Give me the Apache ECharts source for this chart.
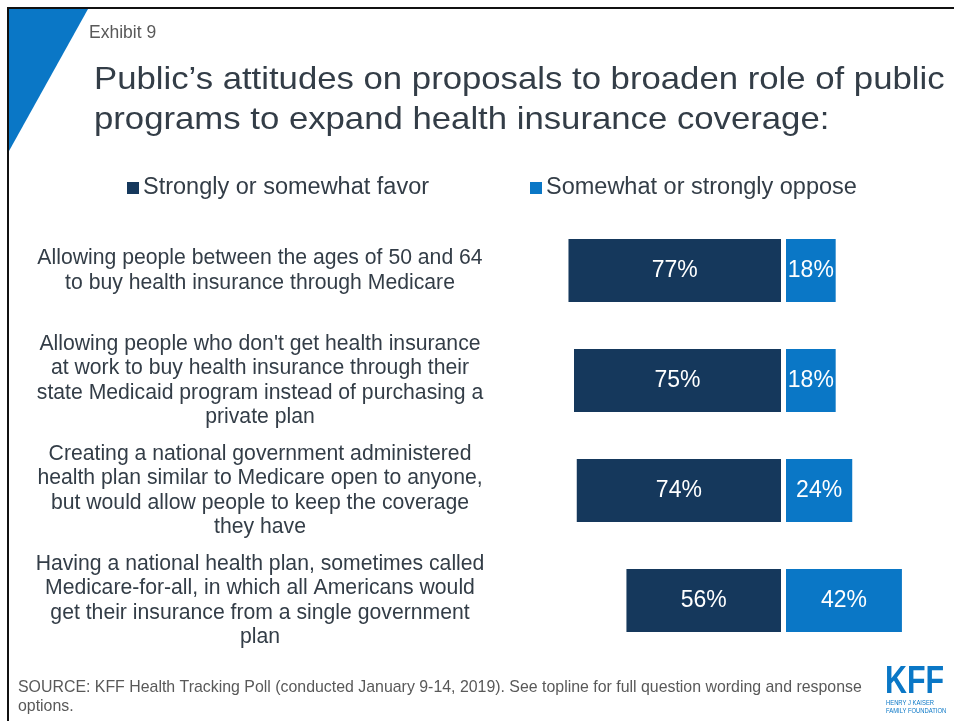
<!DOCTYPE html>
<html><head><meta charset="utf-8">
<script src="https://cdn.jsdelivr.net/npm/echarts@6/dist/echarts.min.js"></script>
<style>html,body{margin:0;padding:0;background:#fff}#c{width:954px;height:721px}</style>
</head><body><div id="c"></div>
<script>
const categories = [
  "Allowing people between the ages of 50 and 64\nto buy health insurance through Medicare",
  "Allowing people who don't get health insurance\nat work to buy health insurance through their\nstate Medicaid program instead of purchasing a\nprivate plan",
  "Creating a national government administered\nhealth plan similar to Medicare open to anyone,\nbut would allow people to keep the coverage\nthey have",
  "Having a national health plan, sometimes called\nMedicare-for-all, in which all Americans would\nget their insurance from a single government\nplan"
];
const favor = [77, 75, 74, 56];
const oppose = [18, 18, 24, 42];
const seriesNames = ["Strongly or somewhat favor", "Somewhat or strongly oppose"];

const FAV = '#15385c', OPP = '#0a77c6', TXT = '#333d47', GRAY = '#595959';
const font = 'Arial, "Liberation Sans", sans-serif';

const chart = echarts.init(document.getElementById('c'), null, {renderer: 'canvas'});
chart.setOption({
  backgroundColor: '#fff',
  animation: false,
  textStyle: {fontFamily: font},
  legend: [
    {data: [seriesNames[0]], left: 127, top: 176, padding: 0, itemWidth: 12, itemHeight: 12, icon: 'rect', itemGap: 0,
     textStyle: {fontSize: 23.5, color: TXT, fontFamily: font, padding: [0,0,0,-1]}},
    {data: [seriesNames[1]], left: 530, top: 176, padding: 0, itemWidth: 12, itemHeight: 12, icon: 'rect', itemGap: 0,
     textStyle: {fontSize: 23.5, color: TXT, fontFamily: font, padding: [0,0,0,-1]}}
  ],
  grid: [
    {left: 505, width: 276, top: 215.5, height: 440},
    {left: 786, width: 165.6, top: 215.5, height: 440}
  ],
  xAxis: [
    {gridIndex: 0, type: 'value', min: 0, max: 100, inverse: true, show: false},
    {gridIndex: 1, type: 'value', min: 0, max: 60, show: false}
  ],
  yAxis: [
    {gridIndex: 0, type: 'category', data: categories, inverse: true,
     axisLine: {show: false}, axisTick: {show: false}, splitLine: {show: false},
     axisLabel: {align: 'center', margin: 245, fontSize: 21.2, lineHeight: 24.3, color: TXT, fontFamily: font}},
    {gridIndex: 1, type: 'category', data: categories, inverse: true, show: false}
  ],
  series: [
    {name: seriesNames[0], type: 'bar', xAxisIndex: 0, yAxisIndex: 0, data: favor, barWidth: 63,
     itemStyle: {color: FAV},
     label: {show: true, position: 'inside', formatter: '{c}%', color: '#fff', fontSize: 23, fontFamily: font}},
    {name: seriesNames[1], type: 'bar', xAxisIndex: 1, yAxisIndex: 1, data: oppose, barWidth: 63,
     itemStyle: {color: OPP},
     label: {show: true, position: 'inside', formatter: '{c}%', color: '#fff', fontSize: 23, fontFamily: font}}
  ],
  graphic: [
    {type: 'polygon', shape: {points: [[9,9],[88,9],[9,151]]}, style: {fill: '#0a77c6'}},
    {type: 'rect', shape: {x: 7, y: 7, width: 947, height: 2}, style: {fill: '#111'}},
    {type: 'rect', shape: {x: 7, y: 7, width: 2, height: 714}, style: {fill: '#111'}},
    {type: 'text', x: 89, y: 24, style: {text: 'Exhibit 9', fontSize: 17.5, fill: GRAY, fontFamily: font}},
    {type: 'text', x: 94, y: 60, scaleX: 1.085, style: {text: 'Public\u2019s attitudes on proposals to broaden role of public\nprograms to expand health insurance coverage:', fontSize: 32, lineHeight: 40, fill: TXT, fontFamily: font}},
    {type: 'text', x: 18, y: 678, style: {text: 'SOURCE: KFF Health Tracking Poll (conducted January 9-14, 2019). See topline for full question wording and response\noptions.', fontSize: 15.9, lineHeight: 19, fill: GRAY, fontFamily: font}},
    {type: 'text', x: 885, y: 664, scaleX: 0.8, style: {text: 'KFF', fontSize: 38, fontWeight: 'bold', fill: '#0a77c6', fontFamily: font}},
    {type: 'text', x: 886, y: 699, scaleX: 0.78, style: {text: 'HENRY J KAISER\nFAMILY FOUNDATION', fontSize: 7.5, lineHeight: 8, fill: '#0a77c6', fontFamily: font}}
  ]
});
</script></body></html>
